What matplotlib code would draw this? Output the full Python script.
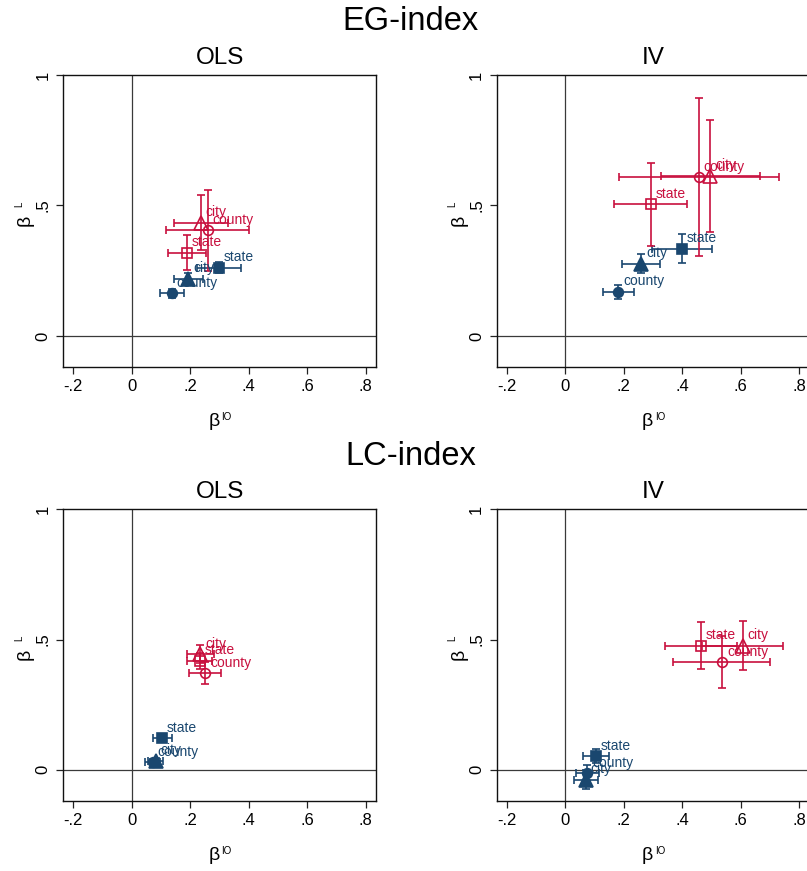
import matplotlib
matplotlib.use('Agg')
import matplotlib.pyplot as plt

plt.rcParams['font.family'] = ['Liberation Sans', 'DejaVu Sans']

# ---------------- data ----------------
GEOS = ['state', 'county', 'city']
MARKERS = {'state': 's', 'county': 'o', 'city': '^'}

XTICKS = [-0.2, 0, 0.2, 0.4, 0.6, 0.8]
XTICKLABELS = ['-.2', '0', '.2', '.4', '.6', '.8']
YTICKS = [0, 0.5, 1]
YTICKLABELS = ['0', '.5', '1']

SECTION_TITLES = ['EG-index', 'LC-index']
PANEL_TITLES = ['OLS', 'IV']

# order of values: state, county, city
# EG-index, OLS
EG_OLS_BLUE_X = [0.298, 0.137, 0.194]
EG_OLS_BLUE_XERR = [0.074, 0.040, 0.048]
EG_OLS_BLUE_Y = [0.262, 0.163, 0.220]
EG_OLS_BLUE_YERR = [0.022, 0.017, 0.022]
EG_OLS_RED_X = [0.189, 0.259, 0.236]
EG_OLS_RED_XERR = [0.064, 0.141, 0.092]
EG_OLS_RED_Y = [0.319, 0.405, 0.434]
EG_OLS_RED_YERR = [0.068, 0.155, 0.105]

# EG-index, IV
EG_IV_BLUE_X = [0.400, 0.181, 0.259]
EG_IV_BLUE_XERR = [0.102, 0.053, 0.065]
EG_IV_BLUE_Y = [0.335, 0.169, 0.277]
EG_IV_BLUE_YERR = [0.057, 0.027, 0.036]
EG_IV_RED_X = [0.292, 0.457, 0.496]
EG_IV_RED_XERR = [0.124, 0.274, 0.170]
EG_IV_RED_Y = [0.504, 0.608, 0.614]
EG_IV_RED_YERR = [0.160, 0.302, 0.215]

# LC-index, OLS
LC_OLS_BLUE_X = [0.104, 0.072, 0.082]
LC_OLS_BLUE_XERR = [0.032, 0.025, 0.025]
LC_OLS_BLUE_Y = [0.121, 0.030, 0.035]
LC_OLS_BLUE_YERR = [0.010, 0.012, 0.012]
LC_OLS_RED_X = [0.232, 0.250, 0.235]
LC_OLS_RED_XERR = [0.042, 0.055, 0.045]
LC_OLS_RED_Y = [0.418, 0.371, 0.443]
LC_OLS_RED_YERR = [0.030, 0.042, 0.035]

# LC-index, IV
LC_IV_BLUE_X = [0.106, 0.076, 0.070]
LC_IV_BLUE_XERR = [0.045, 0.040, 0.041]
LC_IV_BLUE_Y = [0.053, -0.013, -0.038]
LC_IV_BLUE_YERR = [0.027, 0.030, 0.037]
LC_IV_RED_X = [0.465, 0.536, 0.607]
LC_IV_RED_XERR = [0.124, 0.166, 0.138]
LC_IV_RED_Y = [0.477, 0.413, 0.477]
LC_IV_RED_YERR = [0.089, 0.101, 0.095]

BLUE = '#1a476f'
RED = '#c8103e'

# ---------------- figure ----------------
W, H = 807, 871
fig = plt.figure(figsize=(W / 100, H / 100), dpi=100)


def px_box(left, top, right, bottom):
    return [left / W, 1 - bottom / H, (right - left) / W, (bottom - top) / H]


AX_W = 312.7
ROW_TB = [(75.0, 367.3), (509.3, 801.0)]
COL_L = [63.3, 496.7]

panels = [
    [(EG_OLS_BLUE_X, EG_OLS_BLUE_XERR, EG_OLS_BLUE_Y, EG_OLS_BLUE_YERR,
      EG_OLS_RED_X, EG_OLS_RED_XERR, EG_OLS_RED_Y, EG_OLS_RED_YERR),
     (EG_IV_BLUE_X, EG_IV_BLUE_XERR, EG_IV_BLUE_Y, EG_IV_BLUE_YERR,
      EG_IV_RED_X, EG_IV_RED_XERR, EG_IV_RED_Y, EG_IV_RED_YERR)],
    [(LC_OLS_BLUE_X, LC_OLS_BLUE_XERR, LC_OLS_BLUE_Y, LC_OLS_BLUE_YERR,
      LC_OLS_RED_X, LC_OLS_RED_XERR, LC_OLS_RED_Y, LC_OLS_RED_YERR),
     (LC_IV_BLUE_X, LC_IV_BLUE_XERR, LC_IV_BLUE_Y, LC_IV_BLUE_YERR,
      LC_IV_RED_X, LC_IV_RED_XERR, LC_IV_RED_Y, LC_IV_RED_YERR)],
]


def draw_series(ax, xs, xerrs, ys, yerrs, color, filled):
    for geo, x, xe, y, ye in zip(GEOS, xs, xerrs, ys, yerrs):
        ax.errorbar(x, y, xerr=xe, yerr=ye, fmt='none', ecolor=color,
                    elinewidth=1.2, capsize=3.2, capthick=1.2, zorder=3)
        m = MARKERS[geo]
        if m == '^':
            ms = 10.5 if filled else 9.5
        elif m == 's':
            ms = 6.5
        else:
            ms = 7
        ax.plot([x], [y], marker=m, ms=ms, ls='none',
                mfc=color if filled else 'none', mec=color, mew=1.2, zorder=4)
        ax.annotate(geo, (x, y), xytext=(3.6, 7.5), textcoords='offset points',
                    color=color, fontsize=10, ha='left', va='center', zorder=5)


for r in range(2):
    top, bottom = ROW_TB[r]
    for c in range(2):
        left = COL_L[c]
        ax = fig.add_axes(px_box(left, top, left + AX_W, bottom))
        ax.set_xlim(-0.234, 0.835)
        ax.set_ylim(-0.12, 1.0)
        ax.axvline(0, color='#3a3a3a', lw=0.9, zorder=1)
        ax.axhline(0, color='#3a3a3a', lw=0.9, zorder=1)
        bx, bxe, by, bye, rx, rxe, ry, rye = panels[r][c]
        draw_series(ax, bx, bxe, by, bye, BLUE, True)
        draw_series(ax, rx, rxe, ry, rye, RED, False)

        ax.set_xticks(XTICKS)
        ax.set_xticklabels(XTICKLABELS)
        ax.set_yticks(YTICKS)
        ax.set_yticklabels(YTICKLABELS, rotation=90, va='center')
        ax.tick_params(axis='both', direction='out', length=5, width=0.9,
                       labelsize=12, color='#222222')
        ax.tick_params(axis='x', pad=3.5)
        ax.tick_params(axis='y', pad=4)
        for s in ax.spines.values():
            s.set_linewidth(1.0)
            s.set_color('#111111')

        cx = left + AX_W / 2
        # panel title
        fig.text(cx / W, 1 - (top - 17) / H, PANEL_TITLES[c], ha='center',
                 va='center', fontsize=17.5)
        # x label beta^IO
        xl_y = bottom + 54.5
        fig.text((cx - 5.5) / W, 1 - xl_y / H, 'β', ha='center', va='center',
                 fontsize=14)
        fig.text((cx + 7) / W, 1 - (xl_y - 5) / H, 'IO', ha='center',
                 va='center', fontsize=7)
        # y label beta^L
        y_half = top + (bottom - top) * (1.0 - 0.5) / 1.12
        yl_y = y_half + 15
        fig.text((left - 38) / W, 1 - yl_y / H, 'β', ha='center', va='center',
                 fontsize=14, rotation=90)
        fig.text((left - 44.5) / W, 1 - (yl_y - 16) / H, 'L', ha='center',
                 va='center', fontsize=7, rotation=90)

    fig.text(410.5 / W, 1 - (top - 53) / H, SECTION_TITLES[r], ha='center',
             va='center', fontsize=23.5)

fig.savefig('out.png', dpi=100)
